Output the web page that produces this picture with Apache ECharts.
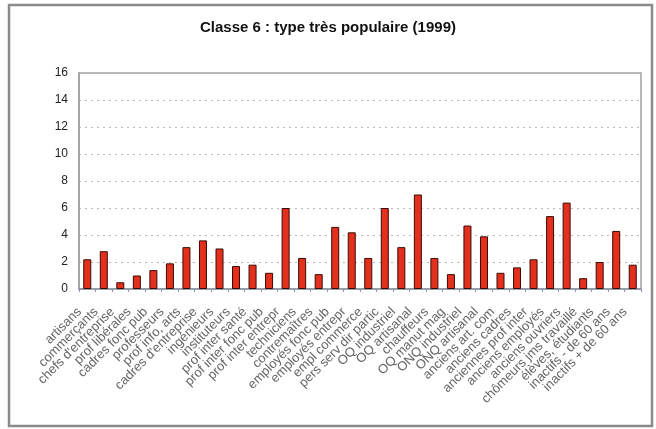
<!DOCTYPE html>
<html>
<head>
<meta charset="utf-8">
<script src="https://cdn.jsdelivr.net/npm/echarts@6/dist/echarts.min.js"></script>
<style>
html,body{margin:0;padding:0;background:#fff;}
#c{width:656px;height:429px;}
</style>
</head>
<body>
<div id="c"></div>
<script>
const titleText = "Classe 6 : type très populaire (1999)";
const categories = [
  "artisans", "commerçants", "chefs d'entreprise", "prof libérales", "cadres fonc pub",
  "professeurs", "prof info, arts", "cadres d'entreprise", "ingénieurs", "instituteurs",
  "prof inter santé", "prof inter fonc pub", "prof inter entrepr", "techniciens", "contremaîtres",
  "employés fonc pub", "employés entrepr", "empl commerce", "pers serv dir partic", "OQ industriel",
  "OQ artisanal", "chauffeurs", "OQ manut mag", "ONQ industriel", "ONQ artisanal",
  "anciens art. com", "anciens cadres", "anciennes prof inter", "anciens employés", "anciens ouvriers",
  "chômeurs jms travaillé", "élèves, étudiants", "inactifs - de 60 ans", "inactifs + de 60 ans"
];
const values = [
  2.2, 2.8, 0.5, 1.0, 1.4, 1.9, 3.1, 3.6, 3.0, 1.7,
  1.8, 1.2, 6.0, 2.3, 1.1, 4.6, 4.2, 2.3, 6.0, 3.1,
  7.0, 2.3, 1.1, 4.7, 3.9, 1.2, 1.6, 2.2, 5.4, 6.4,
  0.8, 2.0, 4.3, 1.8
];
const yTicks = [0, 2, 4, 6, 8, 10, 12, 14, 16];

const chart = echarts.init(document.getElementById('c'), null, {renderer: 'canvas'});
chart.setOption({
  animation: false,
  backgroundColor: '#fff',
  title: {
    text: titleText,
    left: 'center',
    top: 15,
    textStyle: {fontFamily: 'Liberation Sans', fontSize: 15, fontWeight: 'bold', color: '#111'}
  },
  graphic: [{
    type: 'rect',
    shape: {x: 9, y: 5, width: 643, height: 421},
    style: {fill: 'none', stroke: '#8a8a8a', lineWidth: 2.5},
    silent: true
  }],
  grid: {left: 79, right: 15, top: 73, bottom: 140, show: true, borderColor: '#a0a0a0', borderWidth: 1.5, backgroundColor: 'transparent'},
  xAxis: {
    type: 'category',
    data: categories,
    axisLine: {lineStyle: {color: '#8898aa', width: 1.5}},
    axisTick: {show: true, alignWithLabel: false, length: 3, lineStyle: {color: '#8898aa'}},
    axisLabel: {
      interval: 0, rotate: 45, margin: 13,
      padding: [0, 11, 0, 0],
      fontFamily: 'Liberation Sans', fontSize: 13, color: '#666'
    }
  },
  yAxis: {
    type: 'value',
    min: yTicks[0], max: yTicks[yTicks.length - 1], interval: 2,
    axisLine: {show: true, lineStyle: {color: '#a0a0a0', width: 1.5}},
    axisTick: {show: false},
    axisLabel: {fontFamily: 'Liberation Sans', fontSize: 12, color: '#222', margin: 11},
    splitLine: {show: true, lineStyle: {color: '#b8b8b8', type: [2, 4]}}
  },
  series: [{
    type: 'bar',
    data: values,
    barWidth: 8,
    itemStyle: {color: '#e3301c', borderColor: '#3a0a05', borderWidth: 1}
  }]
});
</script>
</body>
</html>
